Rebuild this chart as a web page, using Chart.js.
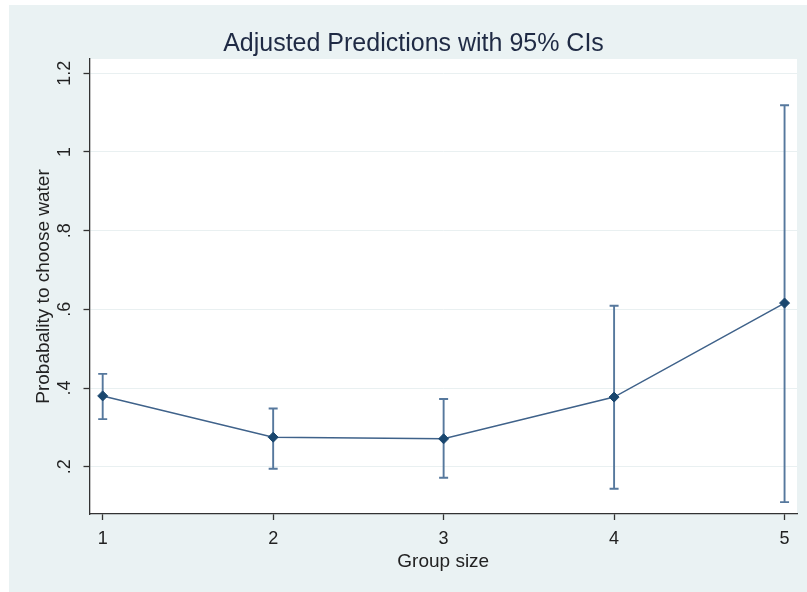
<!DOCTYPE html>
<html>
<head>
<meta charset="utf-8">
<script src="https://cdn.jsdelivr.net/npm/chart.js@4/dist/chart.umd.min.js"></script>
<style>
  html, body { margin: 0; padding: 0; background: #ffffff; }
  #wrap { width: 807px; height: 592px; }
</style>
</head>
<body>
<div id="wrap"><canvas id="c" width="807" height="592"></canvas></div>
<script>
// Group sizes on the x axis
const groupSizes = [1, 2, 3, 4, 5];
// Adjusted predicted probability of choosing water
const predicted = [0.380, 0.275, 0.271, 0.377, 0.616];
// 95% confidence interval bounds
const ciLower = [0.321, 0.195, 0.172, 0.144, 0.110];
const ciUpper = [0.436, 0.348, 0.372, 0.609, 1.119];
// Axis ticks
const xTickValues = [1, 2, 3, 4, 5];
const xTickLabels = ['1', '2', '3', '4', '5'];
const yTickValues = [0.2, 0.4, 0.6, 0.8, 1.0, 1.2];
const yTickLabels = ['.2', '.4', '.6', '.8', '1', '1.2'];

const BG = '#eaf2f3';
const LINE = '#3f628a';
const MARK = '#1a476f';
const CI = '#56789d';
const TEXT = '#222222';
const FONT = "'Liberation Sans', Arial, sans-serif";

const points = groupSizes.map((g, i) => ({ x: g, y: predicted[i] }));

// Outer background and white plot region
const backdrop = {
  id: 'backdrop',
  beforeDraw(chart) {
    const { ctx, width, height, chartArea: a } = chart;
    ctx.save();
    ctx.fillStyle = '#ffffff';
    ctx.fillRect(0, 0, width, height);
    ctx.fillStyle = BG;
    ctx.fillRect(9, 5, width - 9, height - 5);
    ctx.fillStyle = '#ffffff';
    ctx.fillRect(a.left, a.top, a.right - a.left, a.bottom - a.top);
    ctx.restore();
  }
};

// Vertical CI bars with caps, drawn through the chart's scales
const ciBars = {
  id: 'ciBars',
  beforeDatasetsDraw(chart) {
    const { ctx, scales: { x, y } } = chart;
    ctx.save();
    ctx.strokeStyle = CI;
    ctx.lineWidth = 1.9;
    const cap = 4.5;
    groupSizes.forEach((g, i) => {
      const px = x.getPixelForValue(g);
      const lo = y.getPixelForValue(ciLower[i]);
      const hi = y.getPixelForValue(ciUpper[i]);
      ctx.beginPath();
      ctx.moveTo(px, lo); ctx.lineTo(px, hi);
      ctx.moveTo(px - cap, lo); ctx.lineTo(px + cap, lo);
      ctx.moveTo(px - cap, hi); ctx.lineTo(px + cap, hi);
      ctx.stroke();
    });
    ctx.restore();
  }
};

// Y tick labels written vertically, reading bottom to top
const yLabels = {
  id: 'yLabels',
  afterDraw(chart) {
    const { ctx, scales: { y } } = chart;
    ctx.save();
    ctx.fillStyle = TEXT;
    ctx.font = '18px ' + FONT;
    ctx.textAlign = 'center';
    ctx.textBaseline = 'middle';
    yTickValues.forEach((v, i) => {
      const py = y.getPixelForValue(v);
      ctx.save();
      ctx.translate(65, py);
      ctx.rotate(-Math.PI / 2);
      ctx.fillText(yTickLabels[i], 0, 0);
      ctx.restore();
    });
    ctx.restore();
  }
};

new Chart(document.getElementById('c'), {
  type: 'scatter',
  data: {
    datasets: [{
      data: points,
      showLine: true,
      borderColor: LINE,
      borderWidth: 1.5,
      tension: 0,
      pointStyle: 'rectRot',
      pointRadius: 5,
      pointHoverRadius: 5,
      pointBackgroundColor: MARK,
      pointBorderColor: MARK,
      pointBorderWidth: 1
    }]
  },
  options: {
    responsive: false,
    animation: false,
    devicePixelRatio: 1,
    layout: { padding: { left: 30, right: 10, top: 0, bottom: 0 } },
    plugins: {
      legend: { display: false },
      tooltip: { enabled: false },
      title: {
        display: true,
        text: 'Adjusted Predictions with 95% CIs',
        color: '#1f2a44',
        font: { family: FONT, size: 25, weight: 'normal', lineHeight: 1.2 },
        padding: { top: 29, bottom: 0 }
      }
    },
    scales: {
      x: {
        type: 'linear',
        min: 0.9226,
        max: 5.073,
        afterBuildTicks(axis) { axis.ticks = xTickValues.map(v => ({ value: v })); },
        afterFit(axis) { axis.height = 78; },
        ticks: {
          color: TEXT,
          font: { family: FONT, size: 18 },
          padding: 8,
          maxRotation: 0,
          callback: (v) => xTickLabels[xTickValues.indexOf(v)]
        },
        grid: { drawOnChartArea: false, drawTicks: true, tickLength: 6, tickColor: '#333333', tickWidth: 1.3 },
        border: { display: true, color: '#333333', width: 1.3 },
        title: {
          display: true,
          text: 'Group size',
          color: TEXT,
          font: { family: FONT, size: 19 },
          padding: { top: 0, bottom: 18.6 }
        }
      },
      y: {
        type: 'linear',
        min: 0.0798,
        max: 1.2364,
        afterBuildTicks(axis) { axis.ticks = yTickValues.map(v => ({ value: v })); },
        afterFit(axis) { axis.width = 59.5; },
        ticks: { display: false },
        grid: { color: '#e9f0f1', lineWidth: 1, drawTicks: true, tickLength: 6, tickColor: '#333333', tickWidth: 1.3 },
        border: { display: true, color: '#333333', width: 1.3 },
        title: {
          display: true,
          text: 'Probabality to choose water',
          color: TEXT,
          font: { family: FONT, size: 19 },
          padding: { top: 2, bottom: 0 }
        }
      }
    }
  },
  plugins: [backdrop, ciBars, yLabels]
});
</script>
</body>
</html>
